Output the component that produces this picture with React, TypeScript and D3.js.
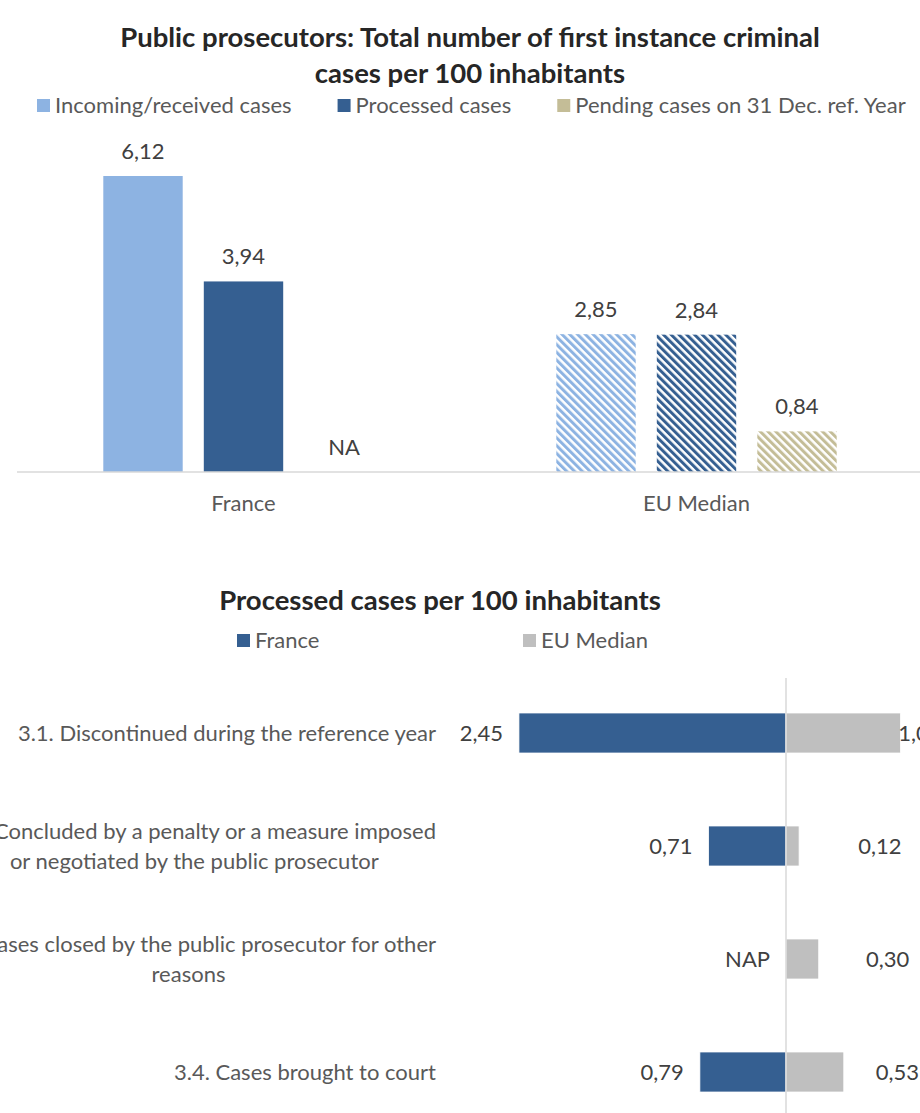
import React, { useEffect, useRef } from "react";
import * as d3 from "d3";

// ---------- DATA ----------
const topTitle = ["Public prosecutors: Total number of first instance criminal", "cases per 100 inhabitants"];
const topCategories = ["France", "EU Median"];
const topSeries = ["Incoming/received cases", "Processed cases", "Pending cases on 31 Dec. ref. Year"];
const incomingValues: (number | null)[] = [6.12, 2.85];
const processedValues: (number | null)[] = [3.94, 2.84];
const pendingValues: (number | null)[] = [null, 0.84];

const bottomTitle = "Processed cases per 100 inhabitants";
const bottomSeries = ["France", "EU Median"];
const bottomCategories: string[][] = [
  ["3.1. Discontinued during the reference year"],
  ["3.2. Concluded by a penalty or a measure imposed", "or negotiated by the public prosecutor"],
  ["3.3. Cases closed by the public prosecutor for other", "reasons"],
  ["3.4. Cases brought to court"],
];
const franceValues: (number | null)[] = [2.45, 0.71, null, 0.79];
const euValues: (number | null)[] = [1.05, 0.12, 0.3, 0.53];

// ---------- STYLE ----------
const FONT = "Lato, 'Open Sans', sans-serif";
const FS = 22;
const FS_TITLE = 27.5;
const C_LIGHT = "#8DB3E2";
const C_DARK = "#355F91";
const C_TAN = "#C4BD97";
const C_GRAY = "#BFBFBF";
const C_AXIS = "#D9D9D9";
const C_TEXT = "#595959";
const C_VAL = "#404040";
const C_TITLE = "#262626";

const fmt = (v: number) => d3.format(".2f")(v).replace(".", ",");

export default function App() {
  const ref = useRef<SVGSVGElement | null>(null);

  useEffect(() => {
    const svg = d3.select(ref.current!);
    svg.selectAll("*").remove();

    // patterns
    const defs = svg.append("defs");
    const mkPattern = (id: string, color: string) => {
      const p = defs
        .append("pattern")
        .attr("id", id)
        .attr("patternUnits", "userSpaceOnUse")
        .attr("width", 5.5)
        .attr("height", 5.5)
        .attr("patternTransform", "rotate(-45)");
      p.append("rect").attr("width", 5.5).attr("height", 5.5).attr("fill", "#fff");
      p.append("rect").attr("width", 3).attr("height", 5.5).attr("fill", color);
    };
    mkPattern("h-light", C_LIGHT);
    mkPattern("h-dark", C_DARK);
    mkPattern("h-tan", C_TAN);

    // ================= TOP CHART =================
    const top = svg.append("g");
    top
      .selectAll("text.title")
      .data(topTitle)
      .join("text")
      .attr("x", 470)
      .attr("y", (_, i) => 47 + i * 36)
      .attr("text-anchor", "middle")
      .attr("font-family", FONT)
      .attr("font-weight", "bold")
      .attr("font-size", FS_TITLE)
      .attr("fill", C_TITLE)
      .text((d) => d);

    // legend (sequential)
    const legendColors = [C_LIGHT, C_DARK, C_TAN];
    let lx = 37;
    topSeries.forEach((s, i) => {
      top.append("rect").attr("x", lx).attr("y", 99).attr("width", 13).attr("height", 13).attr("fill", legendColors[i]);
      const t = top
        .append("text")
        .attr("x", lx + 18)
        .attr("y", 113)
        .attr("font-family", FONT)
        .attr("font-size", FS)
        .attr("fill", C_TEXT)
        .text(s);
      const w = (t.node() as SVGTextElement).getComputedTextLength();
      lx = lx + 18 + w + 46;
    });

    const x0 = d3.scaleBand<string>().domain(topCategories).range([17, 923]).padding(0);
    const y = d3.scaleLinear().domain([0, 6.12]).range([472, 176]);
    const seriesData = [incomingValues, processedValues, pendingValues];
    const fills = [
      [C_LIGHT, "url(#h-light)"],
      [C_DARK, "url(#h-dark)"],
      [C_TAN, "url(#h-tan)"],
    ];

    topCategories.forEach((cat, ci) => {
      const cx = x0(cat)! + x0.bandwidth() / 2;
      const x1 = d3
        .scaleBand<number>()
        .domain([0, 1, 2])
        .range([cx - 150.75, cx + 150.75])
        .paddingInner(0.21)
        .paddingOuter(0.105);
      seriesData.forEach((vals, si) => {
        const v = vals[ci];
        const bx = x1(si)!;
        const bw = x1.bandwidth();
        if (v != null) {
          top
            .append("rect")
            .attr("x", bx)
            .attr("y", y(v))
            .attr("width", bw)
            .attr("height", y(0) - y(v))
            .attr("fill", fills[si][ci]);
        }
        top
          .append("text")
          .attr("x", bx + bw / 2)
          .attr("y", (v != null ? y(v) : y(0)) - 17)
          .attr("text-anchor", "middle")
          .attr("font-family", FONT)
          .attr("font-size", FS)
          .attr("fill", C_VAL)
          .text(v != null ? fmt(v) : "NA");
      });
      top
        .append("text")
        .attr("x", cx)
        .attr("y", 511)
        .attr("text-anchor", "middle")
        .attr("font-family", FONT)
        .attr("font-size", FS)
        .attr("fill", C_TEXT)
        .text(cat);
    });

    top
      .append("line")
      .attr("x1", 17)
      .attr("x2", 920)
      .attr("y1", y(0))
      .attr("y2", y(0))
      .attr("stroke", C_AXIS)
      .attr("stroke-width", 1.5);

    // ================= BOTTOM CHART =================
    const bot = svg.append("g");
    bot
      .append("text")
      .attr("x", 440)
      .attr("y", 610)
      .attr("text-anchor", "middle")
      .attr("font-family", FONT)
      .attr("font-weight", "bold")
      .attr("font-size", FS_TITLE)
      .attr("fill", C_TITLE)
      .text(bottomTitle);

    const bLegendX = [237, 523];
    const bColors = [C_DARK, C_GRAY];
    bottomSeries.forEach((s, i) => {
      bot.append("rect").attr("x", bLegendX[i]).attr("y", 634).attr("width", 13).attr("height", 13).attr("fill", bColors[i]);
      bot
        .append("text")
        .attr("x", bLegendX[i] + 18)
        .attr("y", 648)
        .attr("font-family", FONT)
        .attr("font-size", FS)
        .attr("fill", C_TEXT)
        .text(s);
    });

    const keys = bottomCategories.map((_, i) => String(i));
    const yb = d3.scaleBand<string>().domain(keys).range([676.5, 1128.5]).paddingInner(0.646).paddingOuter(0.323);
    const xb = d3.scaleLinear().domain([-3, 3]).range([786 - 327, 786 + 327]);
    const euLabelX = d3.scaleLinear().domain([0, 1]).range([853, 896]);

    keys.forEach((k, i) => {
      const by = yb(k)!;
      const bh = yb.bandwidth();
      const cy = by + bh / 2;
      const fv = franceValues[i];
      const ev = euValues[i];
      if (fv != null) {
        bot
          .append("rect")
          .attr("x", xb(-fv))
          .attr("y", by)
          .attr("width", xb(0) - xb(-fv))
          .attr("height", bh)
          .attr("fill", C_DARK)
          .attr("stroke", "#fff")
          .attr("stroke-width", 0.75);
      }
      bot
        .append("text")
        .attr("x", xb(fv != null ? -fv : 0) - 16)
        .attr("y", cy + 8)
        .attr("text-anchor", "end")
        .attr("font-family", FONT)
        .attr("font-size", FS)
        .attr("fill", C_VAL)
        .text(fv != null ? fmt(fv) : "NAP");
      if (ev != null) {
        bot
          .append("rect")
          .attr("x", xb(0))
          .attr("y", by)
          .attr("width", xb(ev) - xb(0))
          .attr("height", bh)
          .attr("fill", C_GRAY)
          .attr("stroke", "#fff")
          .attr("stroke-width", 0.75);
        bot
          .append("text")
          .attr("x", euLabelX(ev))
          .attr("y", cy + 8)
          .attr("font-family", FONT)
          .attr("font-size", FS)
          .attr("fill", C_VAL)
          .text(fmt(ev));
      }

      // category label (lines centered as a block, right edge at 436)
      const lines = bottomCategories[i];
      const g = bot.append("g");
      const ts = lines.map((ln, li) =>
        g
          .append("text")
          .attr("y", cy + 8 + (li - (lines.length - 1) / 2) * 30)
          .attr("text-anchor", "middle")
          .attr("font-family", FONT)
          .attr("font-size", FS)
          .attr("fill", C_TEXT)
          .text(ln)
      );
      const maxW = d3.max(ts, (t) => (t.node() as SVGTextElement).getComputedTextLength()) || 0;
      ts.forEach((t) => t.attr("x", 436 - maxW / 2));
    });

    bot
      .append("line")
      .attr("x1", xb(0))
      .attr("x2", xb(0))
      .attr("y1", 678)
      .attr("y2", 1113)
      .attr("stroke", C_AXIS)
      .attr("stroke-width", 1.5);
  }, []);

  return (
    <svg
      ref={ref}
      width={920}
      height={1113}
      style={{ position: "absolute", left: 0, top: 0, background: "#fff", overflow: "hidden" }}
    />
  );
}
